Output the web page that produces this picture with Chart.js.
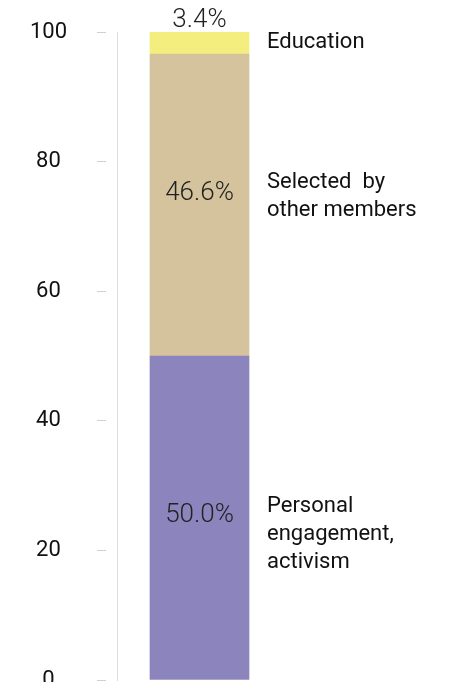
<!DOCTYPE html>
<html>
<head>
<meta charset="utf-8">
<script src="https://cdn.jsdelivr.net/npm/chart.js@4.4.1/dist/chart.umd.min.js"></script>
<style>
  html, body { margin: 0; padding: 0; background: #fff; overflow: hidden; }
  #wrap { position: relative; width: 463px; height: 694px; }
</style>
</head>
<body>
<div id="wrap"><canvas id="reasons-chart"></canvas></div>
<script>
// Share of respondents by how they joined (single stacked column, %)
const categories = [''];
const seriesNames = [
    ['Personal', 'engagement,', 'activism'],
    ['Selected  by', 'other members'],
    ['Education']
];
const personalValues = [50.0];
const selectedValues = [46.6];
const educationValues = [3.4];
const yTicks = [0, 20, 40, 60, 80, 100];

const FONT = 'Roboto, "Noto Sans", sans-serif';

/**
 * Writes the percentage on each segment and the series name to the right of the column
 */
const segmentLabels = {
    id: 'segmentLabels',
    afterDatasetsDraw(chart) {
        const ctx = chart.ctx;
        ctx.save();
        chart.data.datasets.forEach((ds, di) => {
            const meta = chart.getDatasetMeta(di);
            meta.data.forEach((bar, i) => {
                const value = ds.data[i];
                const top = Math.min(bar.y, bar.base);
                const bottom = Math.max(bar.y, bar.base);
                const mid = (top + bottom) / 2;

                // value label: inside the segment, or above the column if it is too thin
                ctx.font = '300 26px ' + FONT;
                ctx.fillStyle = '#222';
                ctx.textAlign = 'center';
                ctx.textBaseline = 'alphabetic';
                const vy = (bottom - top) < 40 ? top - 5 : mid + ds.valueShift;
                ctx.fillText(value.toFixed(1) + '%', bar.x, vy);

                // series name, one line per entry
                ctx.font = '400 22px ' + FONT;
                ctx.fillStyle = '#111';
                ctx.textAlign = 'left';
                ds.lines.forEach((line, li) => {
                    ctx.fillText(line, chart.chartArea.left + 150, mid + ds.noteShift + li * 28);
                });
            });
        });
        ctx.restore();
    }
};

const ctx = document.getElementById('reasons-chart').getContext('2d');
const chart = new Chart(ctx, {
    type: 'bar',
    data: {
        labels: categories,
        datasets: [
            {
                label: seriesNames[0].join(' '),
                lines: seriesNames[0],
                data: personalValues,
                backgroundColor: '#8c84bd',
                valueShift: 4,
                noteShift: -6
            },
            {
                label: seriesNames[1].join(' '),
                lines: seriesNames[1],
                data: selectedValues,
                backgroundColor: '#d4c39d',
                valueShift: -5,
                noteShift: -17
            },
            {
                label: seriesNames[2].join(' '),
                lines: seriesNames[2],
                data: educationValues,
                backgroundColor: '#f4ee7f',
                valueShift: 0,
                noteShift: 5
            }
        ]
    },
    options: {
        responsive: true,
        maintainAspectRatio: false,
        animation: false,
        layout: {
            padding: { top: 32, right: 181, bottom: 14, left: 0 }
        },
        datasets: {
            bar: { barThickness: 99, borderWidth: 0 }
        },
        plugins: {
            legend: { display: false },
            tooltip: { enabled: false }
        },
        scales: {
            x: {
                stacked: true,
                display: false
            },
            y: {
                stacked: true,
                min: 0,
                max: 100,
                afterBuildTicks: (scale) => {
                    scale.ticks = yTicks.map(v => ({ value: v }));
                },
                afterFit: (scale) => {
                    scale.width = 117;
                },
                border: { display: true, color: '#dcdcdc', width: 1 },
                grid: {
                    drawOnChartArea: false,
                    // long tick drawn from its outer end: 30px blank, 9px mark, 11px gap to the axis
                    tickLength: 50,
                    tickColor: '#d0d0d0',
                    tickBorderDash: [9, 41],
                    tickBorderDashOffset: 20
                },
                ticks: {
                    crossAlign: 'center',
                    padding: 0,
                    color: '#111',
                    font: { family: FONT, size: 22 }
                }
            }
        }
    },
    plugins: [segmentLabels]
});
</script>
</body>
</html>
